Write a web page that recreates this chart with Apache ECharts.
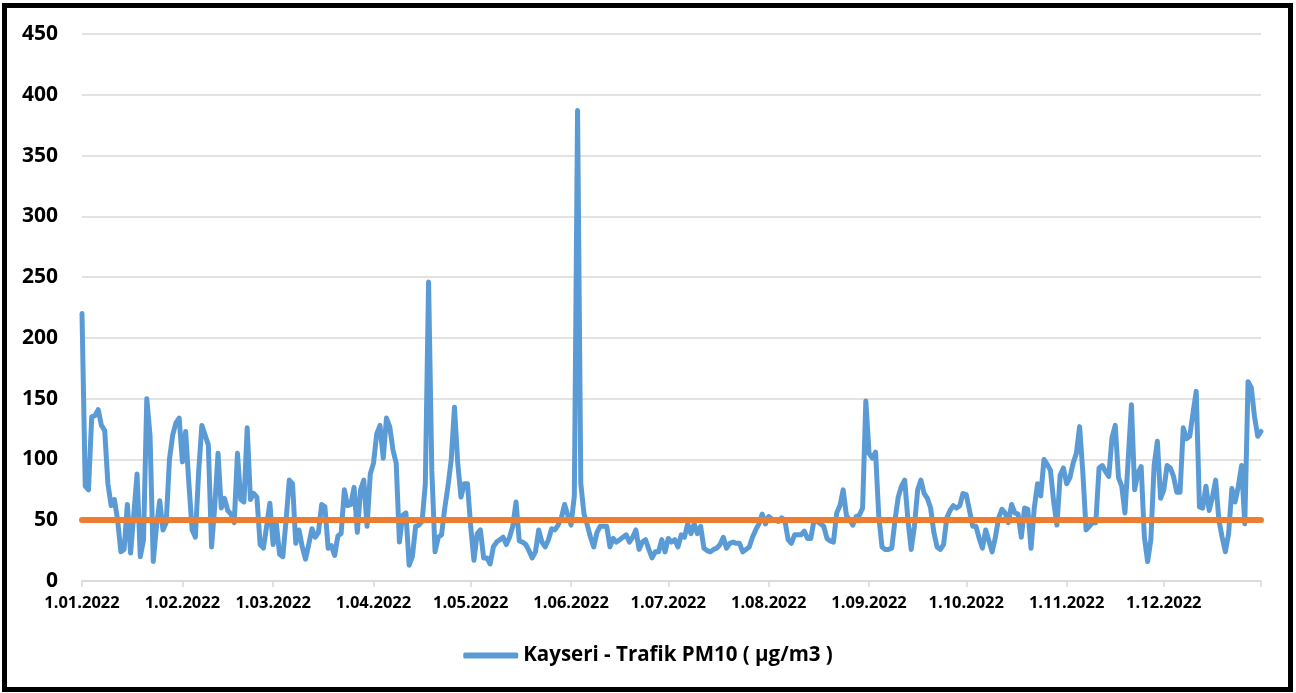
<!DOCTYPE html>
<html>
<head>
<meta charset="utf-8">
<script src="https://cdn.jsdelivr.net/npm/echarts@6/dist/echarts.min.js"></script>
<style>
  html, body { margin: 0; padding: 0; background: #fff; }
  #chart { width: 1296px; height: 693px; }
</style>
</head>
<body>
<div id="chart"></div>
<script>
// Daily PM10 values (µg/m3), Kayseri - Trafik station, 2022
const jan = [220,78,75,135,136,141,128,124,80,62,67,50,24,26,63,23,55,88,20,34,150,120,16,45,66,42,48,100,120,130,134];
const feb = [98,123,80,42,36,89,128,120,112,28,62,105,60,68,58,55,48,105,67,65,126,67,72,69,30,27,45,64];
const mar = [30,47,22,20,50,83,80,31,42,28,18,30,43,36,40,63,61,27,29,21,37,39,75,62,63,77,40,75,83,45,88];
const apr = [97,121,128,101,134,127,108,97,32,54,56,13,20,45,46,49,80,246,91,24,36,38,60,78,100,143,97,69,80,80];
const may = [45,17,39,42,19,19,14,28,32,34,36,30,36,45,65,33,32,30,25,19,24,42,32,28,34,43,42,46,52,63,54];
const jun = [46,70,387,80,55,46,36,28,40,45,45,45,28,35,32,34,36,38,32,36,42,26,32,34,26,19,24,24,34,24];
const jul = [35,32,34,28,38,36,47,39,47,39,45,27,25,24,26,27,30,36,27,31,32,31,31,24,26,28,36,42,47,55,47];
const aug = [53,51,50,49,52,50,34,31,38,38,38,41,35,35,50,49,47,45,35,33,32,56,62,75,54,50,46,53,54,60,148];
const sep = [105,101,106,53,28,26,26,27,50,69,78,83,50,26,45,75,83,72,68,60,40,28,26,30,52,58,62,60,62,72];
const oct = [71,58,45,45,35,27,42,33,24,36,52,59,56,48,63,56,55,36,60,59,27,60,80,70,100,96,91,65,46,87,93];
const nov = [80,85,97,105,127,89,42,45,48,48,93,95,90,86,118,128,85,78,56,100,145,75,89,94,36,16,34,95,115,68];
const dec = [75,95,93,86,73,73,126,117,119,138,156,61,60,78,58,69,83,50,36,24,39,76,65,78,95,47,164,159,135,119,123];

const limitValue = 50;           // daily limit line
const seriesName = 'Kayseri - Trafik PM10 ( µg/m3 )';
const yTicks = { min: 0, max: 450, interval: 50 };

const pm10 = [].concat(jan, feb, mar, apr, may, jun, jul, aug, sep, oct, nov, dec);

// Category labels: every day of 2022 as d.mm.yyyy
const dates = [];
for (let i = 0; i < pm10.length; i++) {
  const dt = new Date(Date.UTC(2022, 0, 1 + i));
  const d = dt.getUTCDate();
  const m = String(dt.getUTCMonth() + 1).padStart(2, '0');
  dates.push(d + '.' + m + '.' + dt.getUTCFullYear());
}
const isMonthStart = (idx, val) => String(val).split('.')[0] === '1';

const FONT = '"Open Sans", "Liberation Sans", sans-serif';
const chart = echarts.init(document.getElementById('chart'), null, { renderer: 'canvas' });
chart.setOption({
  animation: false,
  backgroundColor: '#ffffff',
  textStyle: { fontFamily: FONT },
  graphic: [{
    type: 'rect',
    shape: { x: 4.5, y: 5.5, width: 1286, height: 684 },
    style: { fill: 'none', stroke: '#000', lineWidth: 5 },
    silent: true, z: 100
  }],
  grid: { left: 82, right: 35, top: 34, bottom: 112, containLabel: false },
  legend: {
    bottom: 22,
    left: 'center',
    icon: 'roundRect',
    itemWidth: 55,
    itemHeight: 6,
    itemGap: 8,
    data: [seriesName],
    textStyle: { fontFamily: FONT, fontSize: 20.5, fontWeight: 'bold', color: '#000' }
  },
  xAxis: {
    type: 'category',
    data: dates,
    boundaryGap: false,
    axisLine: { lineStyle: { color: '#d9d9d9', width: 1.5 } },
    axisTick: {
      show: true, length: 6, lineStyle: { color: '#d9d9d9', width: 1.5 },
      interval: (idx, val) => isMonthStart(idx, val) || idx === dates.length - 1
    },
    axisLabel: {
      interval: isMonthStart,
      fontFamily: FONT, fontSize: 16.5, fontWeight: 'bold', color: '#000', margin: 14
    },
    splitLine: { show: false }
  },
  yAxis: {
    type: 'value',
    min: yTicks.min, max: yTicks.max, interval: yTicks.interval,
    axisLine: { show: false },
    axisTick: { show: false },
    axisLabel: { fontFamily: FONT, fontSize: 21, fontWeight: 'bold', color: '#000', margin: 24 },
    splitLine: { lineStyle: { color: '#d9d9d9', width: 1.5 } }
  },
  series: [{
    name: seriesName,
    type: 'line',
    data: pm10,
    showSymbol: false,
    symbol: 'none',
    color: '#5B9BD5',
    lineStyle: { color: '#5B9BD5', width: 5, cap: 'round', join: 'round' },
    markLine: {
      silent: true,
      symbol: 'none',
      label: { show: false },
      lineStyle: { color: '#ED7D31', width: 6, type: 'solid', cap: 'round' },
      data: [{ yAxis: limitValue }]
    }
  }]
});
</script>
</body>
</html>
